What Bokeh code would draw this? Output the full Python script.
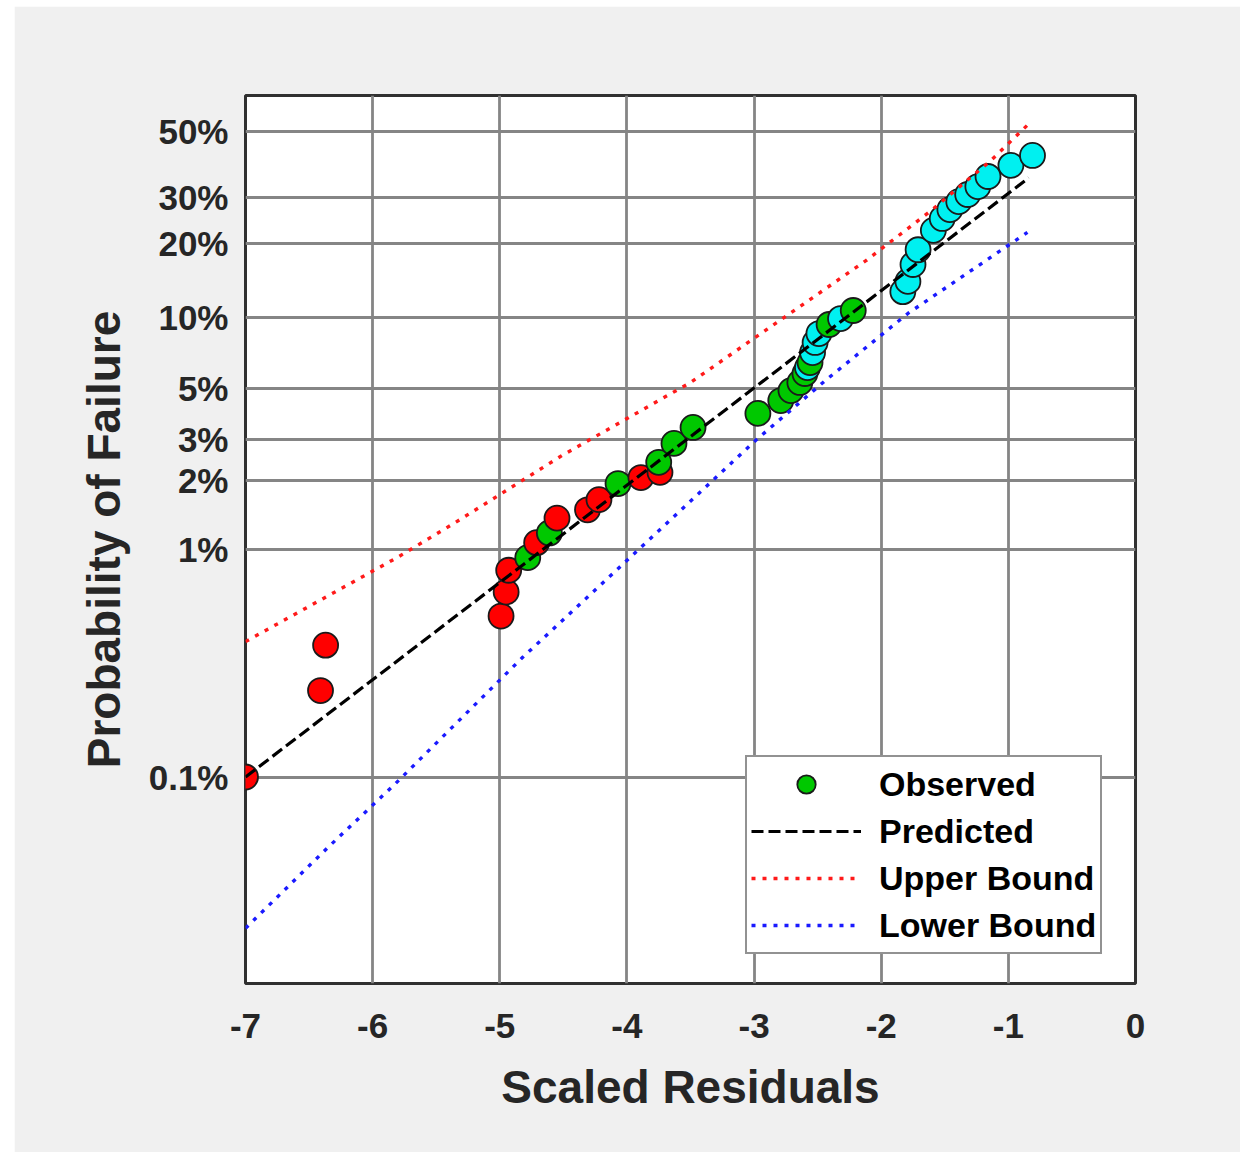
import numpy as np
from bokeh.plotting import figure
from bokeh.layouts import column, row
from bokeh.models import ColumnDataSource, FixedTicker, Range1d, Legend, LegendItem, Spacer
from bokeh.embed import file_html
from bokeh.resources import INLINE

# ---------------- data (x = scaled residual, p = probability of failure in %) ----------------
red_x = [-7.00, -6.41, -6.37, -4.99, -4.95, -4.93, -4.71, -4.55, -4.31, -4.22, -3.89, -3.74]
red_p = [0.10, 0.24, 0.38, 0.51, 0.65, 0.81, 1.07, 1.37, 1.49, 1.65, 2.06, 2.17]

green_x = [-4.78, -4.61, -4.07, -3.75, -3.63, -3.48, -2.97, -2.79, -2.71, -2.64, -2.60, -2.56, -2.41, -2.22]
green_p = [0.92, 1.18, 1.94, 2.40, 2.90, 3.40, 3.91, 4.44, 4.90, 5.31, 5.80, 6.46, 9.35, 10.7]

cyan_x = [-2.58, -2.54, -2.52, -2.49, -2.32, -1.83, -1.79, -1.75, -1.71, -1.59, -1.52, -1.46,
          -1.39, -1.32, -1.24, -1.16, -0.98, -0.81]
cyan_p = [6.15, 7.12, 7.86, 8.57, 9.9, 12.8, 14.1, 16.5, 18.9, 22.5, 25.0, 27.0,
          28.9, 30.7, 32.8, 35.6, 38.9, 42.0]

pred_x = [-7.0, -0.84]
pred_p = [0.10, 35.2]

upper_x = [-7.0, -5.80, -5.36, -4.51, -3.50, -2.12, -1.61, -1.14, -0.83]
upper_p = [0.394, 0.926, 1.30, 2.57, 5.31, 17.1, 26.7, 40.3, 53.2]

lower_x = [-7.0, -6.36, -5.82, -4.82, -3.89, -2.99, -2.44, -1.79, -0.85]
lower_p = [0.0216, 0.0485, 0.0936, 0.336, 1.02, 2.98, 5.41, 10.4, 22.1]

x_ticks = [-7, -6, -5, -4, -3, -2, -1, 0]
x_tick_labels = ["-7", "-6", "-5", "-4", "-3", "-2", "-1", "0"]
y_tick_p = [0.1, 1, 2, 3, 5, 10, 20, 30, 50]
y_tick_labels = ["0.1%", "1%", "2%", "3%", "5%", "10%", "20%", "30%", "50%"]


def weib(p):
    return np.log(-np.log(1.0 - np.asarray(p, dtype=float) / 100.0))


FONT = "Liberation Sans"
TXT = "#262626"
GREEN = "#00c800"

p = figure(width=1226, height=1146,
           x_range=Range1d(-7, 0), y_range=Range1d(-9, 0),
           output_backend="svg", toolbar_location=None,
           min_border_left=231, min_border_right=105,
           min_border_top=89, min_border_bottom=169)

p.background_fill_color = "white"
p.border_fill_color = "#f0f0f0"
p.outline_line_color = "#303030"
p.outline_line_width = 3

# ---------------- observed points, drawn in order of probability ----------------
all_x = red_x + green_x + cyan_x
all_p = red_p + green_p + cyan_p
all_c = ["#ff0000"] * len(red_x) + [GREEN] * len(green_x) + ["#00f0f0"] * len(cyan_x)
order = list(np.argsort(all_p, kind="stable"))
sorted_c = [all_c[i] for i in order]
src = ColumnDataSource(dict(
    x=[all_x[i] for i in order],
    y=list(weib([all_p[i] for i in order])),
    c=sorted_c,
))
obs = p.scatter("x", "y", source=src, size=25, fill_color="c", line_color="#1a1a1a", line_width=1.8)
green_index = sorted_c.index(GREEN)

# ---------------- lines ----------------
pred = p.line(pred_x, list(weib(pred_p)), line_color="black", line_width=3.2, line_dash="12 5")
up = p.line(upper_x, list(weib(upper_p)), line_color="#ff1a1a", line_width=3.4, line_dash="4 7")
lo = p.line(lower_x, list(weib(lower_p)), line_color="#1a1aff", line_width=3.4, line_dash="4 7")

# ---------------- axes & grid ----------------
yt = [float(v) for v in weib(y_tick_p)]
p.xaxis.ticker = FixedTicker(ticks=x_ticks)
p.xaxis.major_label_overrides = {t: l for t, l in zip(x_ticks, x_tick_labels)}
p.yaxis.ticker = FixedTicker(ticks=yt)
p.yaxis.major_label_overrides = {t: l for t, l in zip(yt, y_tick_labels)}
p.xgrid.ticker = FixedTicker(ticks=x_ticks)
p.ygrid.ticker = FixedTicker(ticks=yt)

for g in (p.xgrid, p.ygrid):
    g.grid_line_color = "#858585"
    g.grid_line_width = 2.8
    g.grid_line_alpha = 1.0

for ax in (p.xaxis, p.yaxis):
    ax.axis_line_color = None
    ax.major_tick_in = 0
    ax.major_tick_out = 0
    ax.minor_tick_line_color = None
    ax.major_label_text_font = FONT
    ax.major_label_text_font_size = "35px"
    ax.major_label_text_font_style = "bold"
    ax.major_label_text_color = TXT
    ax.axis_label_text_font = FONT
    ax.axis_label_text_font_size = "46px"
    ax.axis_label_text_font_style = "bold"
    ax.axis_label_text_color = TXT

p.xaxis.axis_label = "Scaled Residuals"
p.yaxis.axis_label = "Probability of Failure"
p.xaxis.major_label_standoff = 30
p.yaxis.major_label_standoff = 17
p.xaxis.axis_label_standoff = 20
p.yaxis.axis_label_standoff = 16

# ---------------- legend ----------------
legend = Legend(items=[
    LegendItem(label="Observed", renderers=[obs], index=green_index),
    LegendItem(label="Predicted", renderers=[pred]),
    LegendItem(label="Upper Bound", renderers=[up]),
    LegendItem(label="Lower Bound", renderers=[lo]),
], location=(500, 29))
legend.glyph_width = 110
legend.glyph_height = 46
legend.label_height = 46
legend.label_standoff = 18
legend.spacing = 1
legend.padding = 4
legend.margin = 0
legend.label_text_font = FONT
legend.label_text_font_size = "34px"
legend.label_text_font_style = "bold"
legend.label_text_color = "black"
legend.border_line_color = "#262626"
legend.border_line_width = 2.6
legend.background_fill_color = "white"
legend.background_fill_alpha = 1.0
p.add_layout(legend)

layout = column(Spacer(height=6), row(Spacer(width=14), p))
open("out.html", "w").write(file_html(layout, INLINE))
